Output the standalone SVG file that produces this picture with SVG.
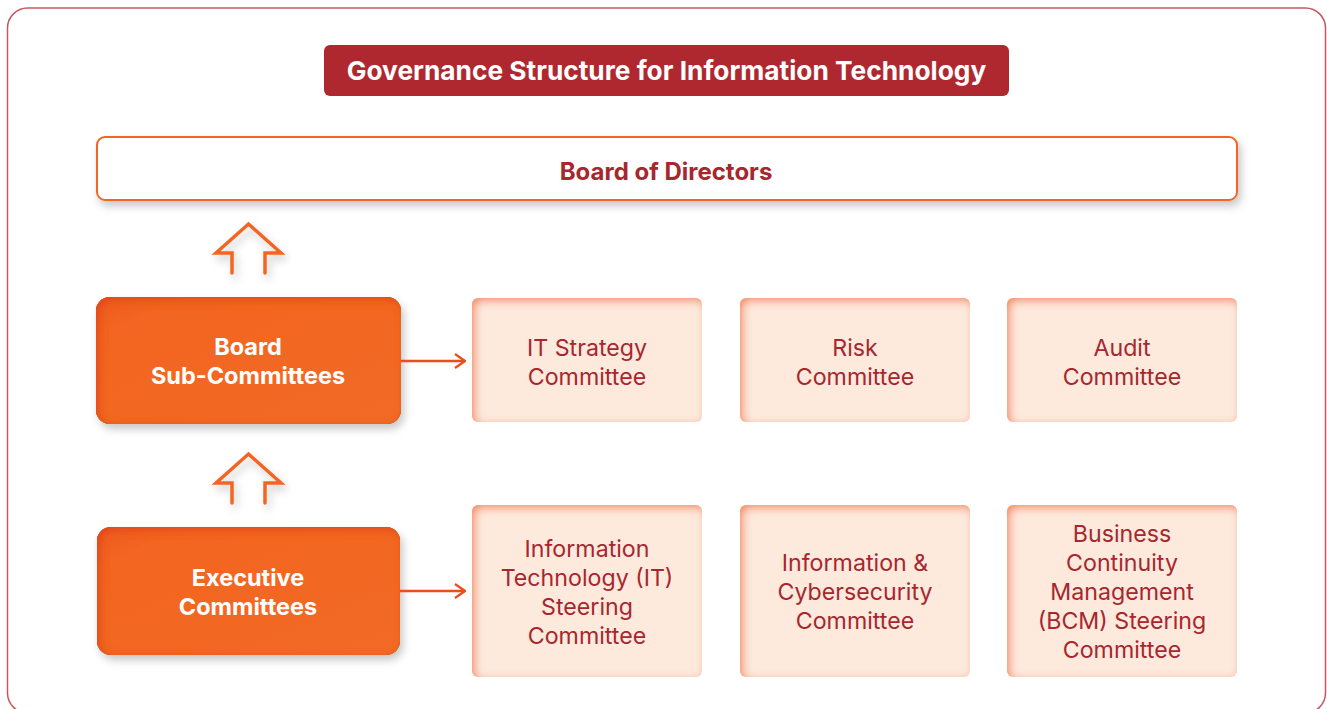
<svg xmlns="http://www.w3.org/2000/svg" width="1327" height="709" viewBox="0 0 1327 709">
<style>
.frame{fill:#fff;stroke:#C9585E;stroke-width:1.5}
.title{font-family:Inter,"Noto Sans",sans-serif;font-weight:700;font-size:26.3px;fill:#fff;text-anchor:middle}
.bod{font-family:Inter,"Noto Sans",sans-serif;font-weight:700;font-size:24px;fill:#A8262D;text-anchor:middle}
.lvl{font-family:Inter,"Noto Sans",sans-serif;font-weight:700;font-size:23.5px;fill:#fff;text-anchor:middle}
.com{font-family:Inter,"Noto Sans",sans-serif;font-weight:400;font-size:23.2px;fill:#A8262D;text-anchor:middle}
.orange{fill:url(#og)}
.light{fill:#FDEADD}
.up{fill:none;stroke:#F26522;stroke-width:3.5;stroke-linejoin:miter;stroke-linecap:round}
.conn{fill:none;stroke:#E94E1B;stroke-width:2.5}
</style>
<defs>
<linearGradient id="og" x1="0" y1="0" x2="1" y2="1">
<stop offset="0" stop-color="#EE5A20"/>
<stop offset="0.15" stop-color="#F26522"/>
<stop offset="1" stop-color="#F26A26"/>
</linearGradient>
<filter id="ds" x="-10%" y="-20%" width="125%" height="150%">
<feDropShadow dx="3" dy="5" stdDeviation="4" flood-color="#000" flood-opacity="0.22"/>
</filter>
<filter id="glow" x="-10%" y="-10%" width="120%" height="120%">
<feFlood flood-color="#F4834F"/>
<feComposite in2="SourceAlpha" operator="out"/>
<feOffset dx="3" dy="3"/>
<feGaussianBlur stdDeviation="5"/>
<feComposite in2="SourceAlpha" operator="in"/>
<feMerge><feMergeNode in="SourceGraphic"/><feMergeNode/></feMerge>
</filter>
<filter id="ig" x="-10%" y="-10%" width="125%" height="130%">
<feFlood flood-color="#E4461A"/>
<feComposite in2="SourceAlpha" operator="out"/>
<feOffset dx="3" dy="3"/>
<feGaussianBlur stdDeviation="4"/>
<feComposite in2="SourceAlpha" operator="in" result="inner"/>
<feDropShadow in="SourceAlpha" dx="3" dy="5" stdDeviation="4" flood-color="#000" flood-opacity="0.22" result="sh"/>
<feMerge><feMergeNode in="sh"/><feMergeNode in="SourceGraphic"/><feMergeNode in="inner"/></feMerge>
</filter>
<marker id="chev" viewBox="0 0 12 16" refX="11" refY="8" markerWidth="12" markerHeight="16" markerUnits="userSpaceOnUse" orient="auto">
<path d="M1,1 L11,8 L1,15" fill="none" stroke="#E94E1B" stroke-width="2.2"/>
</marker>
</defs>

<rect class="frame" x="7.5" y="8" width="1318" height="705" rx="20"/>

<g id="title">
<rect x="324" y="45" width="685" height="51" rx="6" fill="#B0282F"/>
<text class="title" x="666.5" y="80">Governance Structure for Information Technology</text>
</g>

<g id="board-of-directors">
<rect x="97" y="137" width="1140" height="63" rx="8" fill="#fff" stroke="#F26522" stroke-width="2" filter="url(#ds)"/>
<text class="bod" x="666" y="179.5">Board of Directors</text>
</g>

<g id="board-sub-committees">
<rect class="orange" x="96" y="297" width="305" height="127" rx="14" filter="url(#ig)"/>
<text class="lvl" x="248" y="355">Board</text>
<text class="lvl" x="248" y="384">Sub-Committees</text>
</g>

<g id="executive-committees">
<rect class="orange" x="97" y="527" width="303" height="128" rx="14" filter="url(#ig)"/>
<text class="lvl" x="248" y="586">Executive</text>
<text class="lvl" x="248" y="615">Committees</text>
</g>

<g id="it-strategy-committee">
<rect class="light" x="472" y="298" width="230" height="124" rx="6" filter="url(#glow)"/>
<text class="com" x="587" y="356">IT Strategy</text>
<text class="com" x="587" y="385">Committee</text>
</g>
<g id="risk-committee">
<rect class="light" x="740" y="298" width="230" height="124" rx="6" filter="url(#glow)"/>
<text class="com" x="855" y="356">Risk</text>
<text class="com" x="855" y="385">Committee</text>
</g>
<g id="audit-committee">
<rect class="light" x="1007" y="298" width="230" height="124" rx="6" filter="url(#glow)"/>
<text class="com" x="1122" y="356">Audit</text>
<text class="com" x="1122" y="385">Committee</text>
</g>

<g id="it-steering-committee">
<rect class="light" x="472" y="505" width="230" height="172" rx="6" filter="url(#glow)"/>
<text class="com" x="587" y="557">Information</text>
<text class="com" x="587" y="586">Technology (IT)</text>
<text class="com" x="587" y="615">Steering</text>
<text class="com" x="587" y="644">Committee</text>
</g>
<g id="cybersecurity-committee">
<rect class="light" x="740" y="505" width="230" height="172" rx="6" filter="url(#glow)"/>
<text class="com" x="855" y="571">Information &amp;</text>
<text class="com" x="855" y="600">Cybersecurity</text>
<text class="com" x="855" y="629">Committee</text>
</g>
<g id="bcm-steering-committee">
<rect class="light" x="1007" y="505" width="230" height="172" rx="6" filter="url(#glow)"/>
<text class="com" x="1122" y="542">Business</text>
<text class="com" x="1122" y="571">Continuity</text>
<text class="com" x="1122" y="600">Management</text>
<text class="com" x="1122" y="629">(BCM) Steering</text>
<text class="com" x="1122" y="658">Committee</text>
</g>

<g id="connectors">
<path class="up" d="M232,273 V253 H216 L248.5,224 L281,253 H265 V273" filter="url(#ds)"/>
<path class="up" d="M232,503 V483 H216 L248.5,454 L281,483 H265 V503" filter="url(#ds)"/>
<line class="conn" x1="401" y1="361" x2="465" y2="361" marker-end="url(#chev)"/>
<line class="conn" x1="400" y1="591" x2="465" y2="591" marker-end="url(#chev)"/>
</g>
</svg>
